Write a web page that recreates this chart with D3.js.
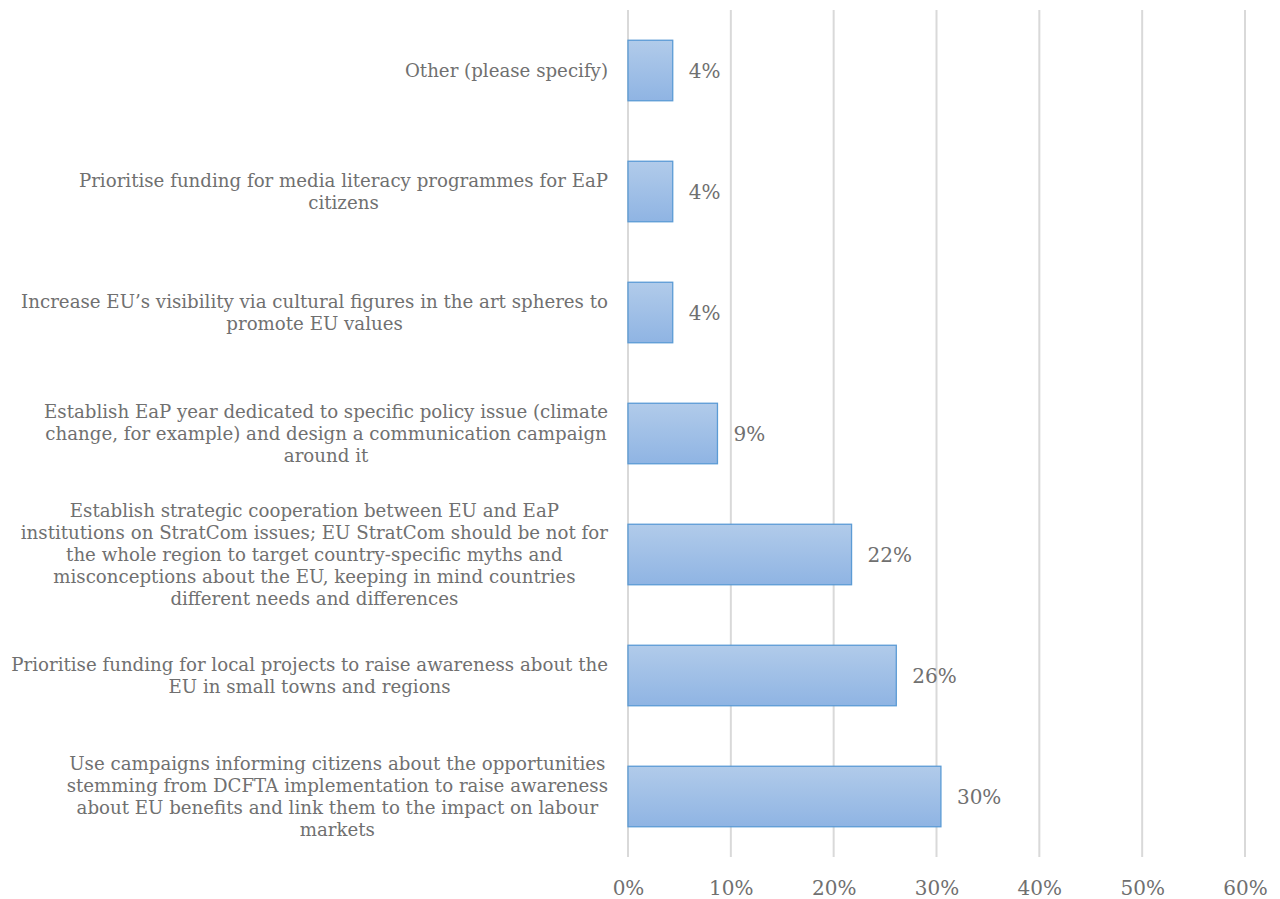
<!DOCTYPE html>
<html>
<head>
<meta charset="utf-8">
<script src="https://cdn.jsdelivr.net/npm/d3@7"></script>
<style>
  html, body { margin: 0; padding: 0; background: #fff; }
  svg text { font-family: "DejaVu Serif", Georgia, serif; fill: #707070; }
</style>
</head>
<body>
<svg id="chart" width="1280" height="899"></svg>
<script>
// categories, top to bottom, pre-wrapped as in the original
var categories = [
    ['Other (please specify)'],
    ['Prioritise funding for media literacy programmes for EaP', 'citizens'],
    ['Increase EU\u2019s visibility via cultural figures in the art spheres to', 'promote EU values'],
    ['Establish EaP year dedicated to specific policy issue (climate', 'change, for example) and design a communication campaign', 'around it'],
    ['Establish strategic cooperation between EU and EaP', 'institutions on StratCom issues; EU StratCom should be not for', 'the whole region to target country-specific myths and', 'misconceptions about the EU, keeping in mind countries', 'different needs and differences'],
    ['Prioritise funding for local projects to raise awareness about the', 'EU in small towns and regions'],
    ['Use campaigns informing citizens about the opportunities', 'stemming from DCFTA implementation to raise awareness', 'about EU benefits and link them to the impact on labour', 'markets']
];
var values = [4.35, 4.35, 4.35, 8.7, 21.74, 26.09, 30.43];
var valueLabels = ['4%', '4%', '4%', '9%', '22%', '26%', '30%'];
var tickValues = [0, 10, 20, 30, 40, 50, 60];

var svg = d3.select('#chart');
var margin = { left: 628, right: 35, top: 10, bottom: 42 };
var width = 1280 - margin.left - margin.right,
    height = 899 - margin.top - margin.bottom;

var defs = svg.append('defs');
var grad = defs.append('linearGradient')
    .attr('id', 'barFill')
    .attr('x1', 0).attr('y1', 0).attr('x2', 0).attr('y2', 1);
grad.append('stop').attr('offset', '0%').attr('stop-color', '#b1cbea');
grad.append('stop').attr('offset', '100%').attr('stop-color', '#8fb4e3');

var g = svg.append('g').attr('transform', 'translate(' + margin.left + ',' + margin.top + ')');

var x = d3.scaleLinear().domain([0, 60]).range([0, width]);
var y = d3.scaleBand()
    .domain(d3.range(categories.length))
    .range([0, height])
    .paddingInner(0.5)
    .paddingOuter(0.25);

// gridlines
g.selectAll('line.grid')
    .data(tickValues)
    .enter().append('line')
    .attr('class', 'grid')
    .attr('x1', function(d) { return x(d); })
    .attr('x2', function(d) { return x(d); })
    .attr('y1', 0)
    .attr('y2', height)
    .style('stroke', '#d9d9d9')
    .style('stroke-width', 2);

// x axis labels
var xAxis = d3.axisBottom(x)
    .tickValues(tickValues)
    .tickSize(0)
    .tickPadding(24)
    .tickFormat(function(d) { return d + '%'; });

var axisG = g.append('g')
    .attr('transform', 'translate(0,' + height + ')')
    .call(xAxis);
axisG.select('.domain').remove();
axisG.selectAll('text')
    .style('font-size', '20px')
    .style('font-family', '"DejaVu Serif", Georgia, serif')
    .style('fill', '#707070');

// bars
g.selectAll('rect.bar')
    .data(values)
    .enter().append('rect')
    .attr('class', 'bar')
    .attr('x', x(0))
    .attr('y', function(d, i) { return y(i); })
    .attr('width', function(d) { return x(d) - x(0); })
    .attr('height', y.bandwidth())
    .style('fill', 'url(#barFill)')
    .style('stroke', '#5b9bd5')
    .style('stroke-width', 1.3);

// value labels
g.selectAll('text.val')
    .data(values)
    .enter().append('text')
    .attr('class', 'val')
    .attr('x', function(d) { return x(d) + 16; })
    .attr('y', function(d, i) { return y(i) + y.bandwidth() / 2; })
    .attr('dy', '0.35em')
    .style('font-size', '20px')
    .text(function(d, i) { return valueLabels[i]; });

// category labels: block right-aligned, lines centered
var labelFont = 18.2;
var lineH = 22;
var rightEdge = 608;
categories.forEach(function(lines, i) {
    var cy = margin.top + y(i) + y.bandwidth() / 2;
    var grp = svg.append('g');
    var texts = grp.selectAll('text')
        .data(lines)
        .enter().append('text')
        .style('font-size', labelFont + 'px')
        .attr('text-anchor', 'middle')
        .attr('dy', '0.35em')
        .text(function(d) { return d; });
    var maxW = 0;
    texts.each(function() { maxW = Math.max(maxW, this.getComputedTextLength()); });
    var cx = rightEdge - maxW / 2;
    texts
        .attr('x', cx)
        .attr('y', function(d, j) { return cy + (j - (lines.length - 1) / 2) * lineH; });
});
</script>
</body>
</html>
